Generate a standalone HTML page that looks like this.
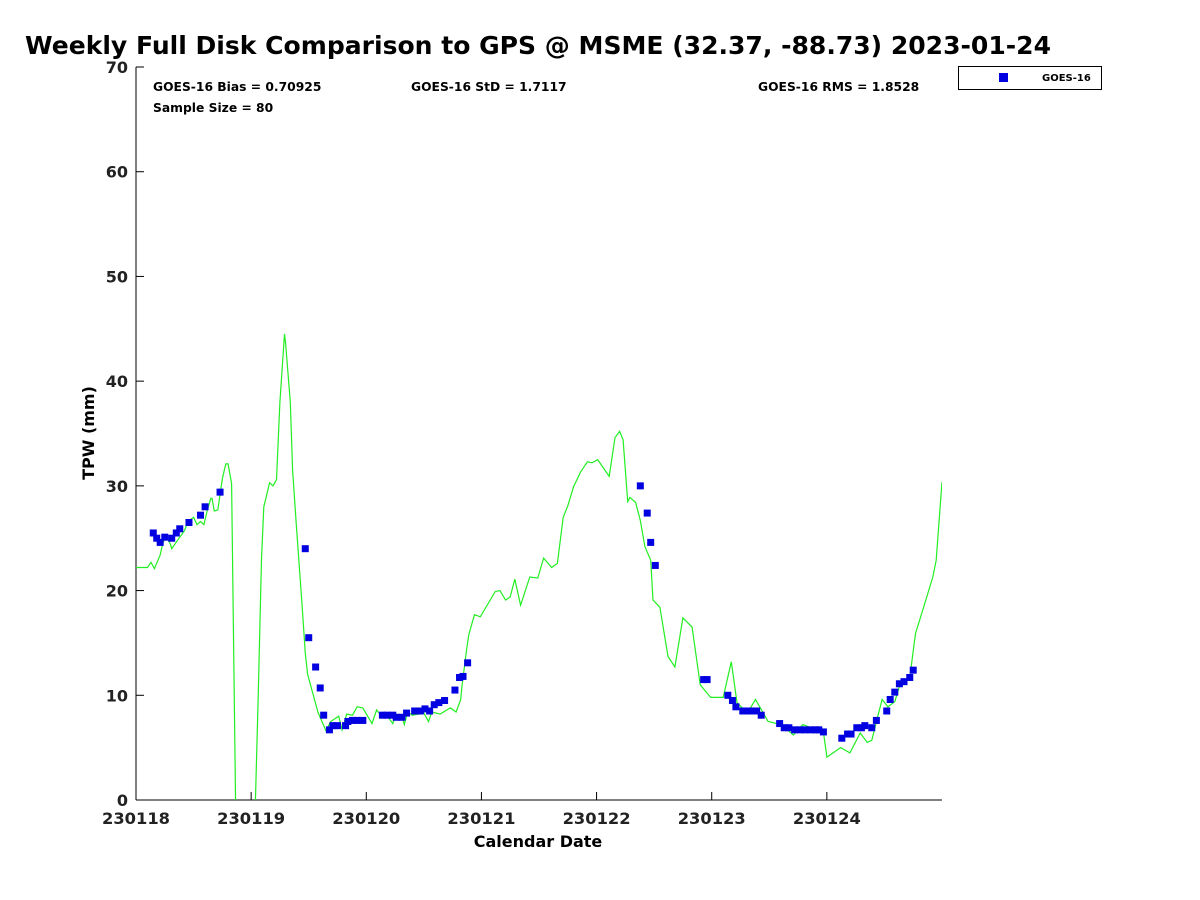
<!DOCTYPE html>
<html><head><meta charset="utf-8"><style>
body{margin:0;background:#fff;}
svg{display:block;font-family:"DejaVu Sans","Liberation Sans",sans-serif;}
</style></head><body>
<svg id="chart" width="1200" height="900">
<defs><clipPath id="plotclip"><rect x="136" y="67" width="806" height="733"/></clipPath></defs>
<text x="25" y="54" font-size="25" font-weight="bold" fill="#000" textLength="1026" lengthAdjust="spacingAndGlyphs">Weekly Full Disk Comparison to GPS @ MSME (32.37, -88.73) 2023-01-24</text>
<g id="axes"></g>
<g id="series" clip-path="url(#plotclip)"></g>
<text x="153" y="91" font-size="12.3" font-weight="bold">GOES-16 Bias = 0.70925</text>
<text x="411" y="91" font-size="12.3" font-weight="bold">GOES-16 StD = 1.7117</text>
<text x="758" y="91" font-size="12.3" font-weight="bold">GOES-16 RMS = 1.8528</text>
<text x="153" y="112" font-size="12.3" font-weight="bold">Sample Size = 80</text>
<g>
<rect x="958.5" y="66.5" width="143" height="23" fill="#fff" stroke="#000" stroke-width="1"/>
<rect x="999" y="73" width="9" height="9" fill="#0000e0"/>
<text x="1042" y="81" font-size="10" font-weight="bold">GOES-16</text>
</g>
<text x="538" y="847" font-size="16" font-weight="bold" text-anchor="middle">Calendar Date</text>
<text transform="translate(94,433) rotate(-90)" font-size="16" font-weight="bold" text-anchor="middle">TPW (mm)</text>
</svg>
<script>
const xTickLabels=["230118","230119","230120","230121","230122","230123","230124"];
const yTicks=[0,10,20,30,40,50,60,70];
const gpsDay=[0,0.10,0.13,0.16,0.21,0.23,0.26,0.30,0.31,0.36,0.42,0.45,0.50,0.53,0.56,0.59,0.62,0.65,0.66,0.68,0.71,0.75,0.78,0.80,0.83,0.87,1.03,1.06,1.09,1.11,1.16,1.19,1.22,1.25,1.29,1.30,1.34,1.36,1.39,1.42,1.44,1.47,1.49,1.58,1.65,1.69,1.76,1.79,1.83,1.88,1.92,1.97,2.05,2.09,2.14,2.17,2.23,2.26,2.31,2.33,2.36,2.40,2.50,2.54,2.57,2.64,2.73,2.78,2.82,2.83,2.87,2.89,2.94,2.99,3.12,3.16,3.21,3.25,3.29,3.34,3.42,3.49,3.54,3.61,3.66,3.71,3.75,3.80,3.86,3.92,3.96,4.01,4.11,4.16,4.20,4.23,4.27,4.29,4.34,4.38,4.42,4.47,4.49,4.55,4.62,4.68,4.75,4.83,4.90,4.99,5.10,5.17,5.22,5.31,5.38,5.49,5.60,5.71,5.79,5.97,6.00,6.12,6.20,6.29,6.35,6.39,6.44,6.48,6.53,6.59,6.64,6.72,6.77,6.84,6.92,6.95,7.00];
const gpsTpw=[22.2,22.2,22.7,22.1,23.4,24.4,25.3,24.4,24.0,24.8,25.7,26.6,27.0,26.3,26.6,26.3,27.7,28.8,28.8,27.6,27.7,30.7,32.1,32.1,30.2,-5,-3,9.5,23,28,30.3,30,30.6,38,44.5,43.5,38,31.5,26.7,22,19,14,12,8.4,6.6,7.5,8,6.7,8.2,8.1,8.9,8.8,7.3,8.6,7.9,8.2,7.3,8.2,8.0,7.2,8.4,8.1,8.3,7.5,8.4,8.2,8.8,8.4,9.6,10.8,14.3,15.8,17.7,17.5,19.9,20.0,19.1,19.4,21.1,18.6,21.3,21.2,23.1,22.2,22.6,27.0,28.1,29.9,31.3,32.3,32.2,32.5,30.9,34.6,35.2,34.4,28.5,28.9,28.4,26.7,24.2,22.9,19.1,18.4,13.7,12.7,17.4,16.5,11.0,9.8,9.8,13.2,9.3,8.3,9.6,7.5,7.2,6.2,7.2,6.5,4.1,5.0,4.5,6.4,5.5,5.7,7.9,9.6,8.9,9.4,11.2,11.7,15.9,18.4,21.3,22.9,30.4];
const goesDay=[0.15,0.18,0.21,0.25,0.31,0.35,0.38,0.46,0.56,0.60,0.73,1.47,1.50,1.56,1.60,1.63,1.68,1.71,1.75,1.82,1.84,1.88,1.92,1.97,2.14,2.18,2.23,2.26,2.31,2.35,2.42,2.47,2.51,2.55,2.59,2.63,2.68,2.77,2.81,2.84,2.88,4.38,4.44,4.47,4.51,4.93,4.96,5.14,5.18,5.21,5.27,5.31,5.35,5.39,5.43,5.59,5.63,5.67,5.72,5.77,5.81,5.86,5.90,5.93,5.97,6.13,6.18,6.21,6.26,6.30,6.33,6.39,6.43,6.52,6.55,6.59,6.63,6.67,6.72,6.75];
const goesTpw=[25.5,25.0,24.6,25.1,25.0,25.5,25.9,26.5,27.2,28.0,29.4,24.0,15.5,12.7,10.7,8.1,6.7,7.1,7.1,7.1,7.5,7.6,7.6,7.6,8.1,8.1,8.1,7.9,7.9,8.3,8.5,8.5,8.7,8.5,9.1,9.3,9.5,10.5,11.7,11.8,13.1,30.0,27.4,24.6,22.4,11.5,11.5,10.0,9.5,8.9,8.5,8.5,8.5,8.5,8.1,7.3,6.9,6.9,6.7,6.7,6.7,6.7,6.7,6.7,6.5,5.9,6.3,6.3,6.9,6.9,7.1,6.9,7.6,8.5,9.6,10.3,11.1,11.3,11.7,12.4];

const NS="http://www.w3.org/2000/svg";
const X0=136,X1=942,Y0=800,Y1=67;
const xScale=d=>X0+d*(X1-X0)/7;
const yScale=v=>Y0-v*(Y0-Y1)/70;
function mk(tag,attrs,parent){const e=document.createElementNS(NS,tag);for(const k in attrs)e.setAttribute(k,attrs[k]);parent.appendChild(e);return e;}
const axes=document.getElementById('axes');
const series=document.getElementById('series');
let e=mk('line',{x1:X0,y1:Y0,x2:X1,y2:Y0,stroke:'#000','stroke-width':1},axes);


e=mk('line',{x1:X0,y1:Y0,x2:X0,y2:Y1,stroke:'#000','stroke-width':1},axes);


yTicks.forEach(v=>{
  const y=yScale(v);
  let t=mk('line',{x1:X0,y1:y,x2:X0+8,y2:y,stroke:'#000'},axes);
  
  
  let l=mk('text',{x:X0-8,y:y+6,'font-size':16,'font-weight':'bold','text-anchor':'end',fill:'#222'},axes);
  l.textContent=v;
  
  
});
xTickLabels.forEach((s,i)=>{
  const x=xScale(i);
  let t=mk('line',{x1:x,y1:Y0,x2:x,y2:Y0-8,stroke:'#000'},axes);
  
  
  let l=mk('text',{x:x,y:824,'font-size':16.3,'font-weight':'bold','text-anchor':'middle',fill:'#222'},axes);
  l.textContent=s;
  
  
});
const pts=gpsDay.map((d,i)=>xScale(d).toFixed(1)+','+yScale(gpsTpw[i]).toFixed(1)).join(' ');
const pl=mk('polyline',{points:pts,fill:'none',stroke:'#22ee22','stroke-width':1.2},series);


goesDay.forEach((d,i)=>{
  const r=mk('rect',{x:xScale(d)-3.5,y:yScale(goesTpw[i])-3.5,width:7,height:7,fill:'#0000e0'},series);
  
  
});
</script>
</body></html>
